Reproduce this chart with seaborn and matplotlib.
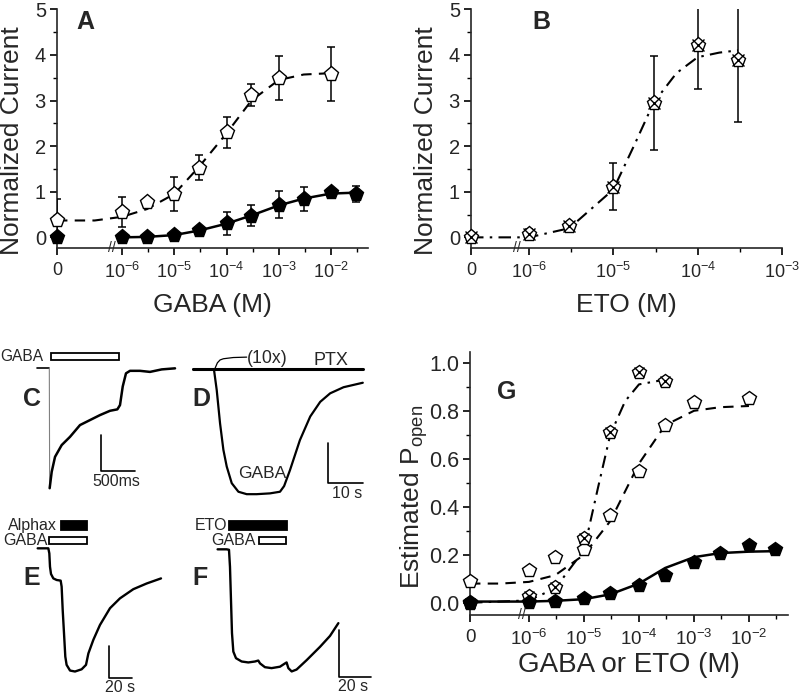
import numpy as np
import matplotlib
matplotlib.use('Agg')
import matplotlib.pyplot as plt
from matplotlib.patches import Rectangle
import seaborn as sns

sns.set_style('ticks')
plt.rcParams['font.family'] = ['Liberation Sans', 'DejaVu Sans']
plt.rcParams['mathtext.default'] = 'regular'


# Panel A: GABA dose-response (open = with modulator, filled = GABA alone)
conc_a_open = [0, 1e-6, 3e-6, 1e-5, 3e-5, 1e-4, 3e-4, 1e-3, 1e-2]
a_open = [0.38, 0.55, 0.77, 0.95, 1.53, 2.30, 3.12, 3.50, 3.58]
a_open_err = [0.45, 0.33, 0.05, 0.37, 0.27, 0.34, 0.25, 0.48, 0.60]
conc_a_fill = [0, 1e-6, 3e-6, 1e-5, 3e-5, 1e-4, 3e-4, 1e-3, 3e-3, 1e-2, 3e-2]
a_fill = [0.0, 0.0, 0.01, 0.06, 0.16, 0.31, 0.47, 0.72, 0.84, 0.99, 0.95]
a_fill_err = [0.0, 0.0, 0.0, 0.03, 0.05, 0.25, 0.23, 0.30, 0.27, 0.05, 0.17]

fit_a_open_c = [0, 3e-7, 1e-6, 3e-6, 1e-5, 3e-5, 1e-4, 3e-4, 1e-3, 3e-3, 1e-2]
fit_a_open = [0.37, 0.37, 0.45, 0.62, 0.95, 1.55, 2.28, 3.0, 3.45, 3.57, 3.6]
fit_a_fill_c = [1e-6, 3e-6, 1e-5, 3e-5, 1e-4, 3e-4, 1e-3, 3e-3, 1e-2, 3e-2]
fit_a_fill = [0.0, 0.01, 0.05, 0.15, 0.30, 0.48, 0.70, 0.85, 0.96, 0.98]

# Panel B: ETO dose-response
conc_b = [0, 1e-6, 3e-6, 1e-5, 3e-5, 1e-4, 3e-4]
b_eto = [0.0, 0.08, 0.25, 1.11, 2.95, 4.22, 3.89]
b_err = [0.0, 0.10, 0.05, 0.52, 1.03, 0.97, 1.35]
fit_b_c = [0, 1e-6, 3e-6, 1e-5, 1.8e-5, 3e-5, 5.6e-5, 1e-4, 1.8e-4, 3e-4]
fit_b = [0.0, 0.0, 0.2, 1.05, 2.05, 2.95, 3.6, 3.95, 4.05, 4.1]

# Panel G: estimated open probability
conc_g_open = [0, 1e-6, 3e-6, 1e-5, 3e-5, 1e-4, 3e-4, 1e-3, 1e-2]
g_open = [0.09, 0.136, 0.19, 0.226, 0.365, 0.55, 0.74, 0.837, 0.855]
conc_g_eto = [0, 1e-6, 3e-6, 1e-5, 3e-5, 1e-4, 3e-4]
g_eto = [0.0, 0.03, 0.065, 0.27, 0.71, 0.96, 0.925]
conc_g_fill = [0, 1e-6, 3e-6, 1e-5, 3e-5, 1e-4, 3e-4, 1e-3, 3e-3, 1e-2, 3e-2]
g_fill = [0.005, 0.005, 0.007, 0.018, 0.042, 0.074, 0.115, 0.171, 0.206, 0.24, 0.224]

fit_g_open_c = [0, 3e-7, 1e-6, 3e-6, 1e-5, 3e-5, 1e-4, 3e-4, 1e-3, 3e-3, 1e-2]
fit_g_open = [0.08, 0.08, 0.087, 0.115, 0.2, 0.34, 0.58, 0.74, 0.80, 0.815, 0.82]
fit_g_eto_c = [0, 1e-6, 3e-6, 1e-5, 1.8e-5, 3e-5, 5.6e-5, 1e-4, 3e-4]
fit_g_eto = [0.0, 0.01, 0.06, 0.22, 0.48, 0.70, 0.84, 0.91, 0.93]
fit_g_fill_c = [0, 1e-6, 3e-6, 1e-5, 3e-5, 1e-4, 3e-4, 1e-3, 3e-3, 1e-2, 3e-2]
fit_g_fill = [0.005, 0.005, 0.008, 0.015, 0.035, 0.08, 0.145, 0.19, 0.207, 0.213, 0.215]

# Current traces (time, current in units of the vertical scale bar)
c_t = [-206, -20, -15, 15, 64, 162, 284, 431, 578, 725, 872, 980, 1019, 1059, 1107, 1166, 1313, 1460, 1632, 1828]  # ms
c_i = [0, 0, -3.36, -2.90, -2.48, -2.15, -1.92, -1.59, -1.45, -1.31, -1.19, -1.15, -1.03, -0.51, -0.14, -0.07, -0.07, -0.10, -0.03, 0.0]
c_gaba = (0, 1000)

d_gaba_t = [-6.0, -0.2, 0, 0.78, 1.75, 2.72, 3.69, 5.15, 7.09, 9.51, 12.4, 16.3, 19.2, 20.4, 22.1, 25.0, 28.0, 30.9, 33.8, 37.7, 43.3]  # s
d_gaba_i = [0, 0, -0.02, -0.51, -1.33, -1.98, -2.39, -2.80, -3.01, -3.07, -3.07, -3.05, -3.01, -2.87, -2.48, -1.74, -1.16, -0.80, -0.59, -0.44, -0.33]
d_ptx_t = [-6.0, 43.3]
d_ptx_i = [0, 0]
d_10x_t = [0.29, 0.97, 1.75, 2.72, 5.6, 9.5]
d_10x_i = [0.025, 0.16, 0.23, 0.26, 0.29, 0.30]

e_t = [-9.86, -0.85, 0, 0.56, 1.41, 3.38, 6.2, 9.58, 10.4, 11.3, 12.4, 13.5, 14.6, 17.5, 21.7, 27.3, 31.0, 33.0, 37.2, 42.8, 51.3, 59.7, 71.0, 82.3, 94.4]
e_i = [0, 0, -0.16, -0.58, -0.81, -0.95, -1.0, -1.02, -1.21, -1.95, -2.68, -3.42, -3.68, -3.86, -3.89, -3.82, -3.68, -3.32, -2.89, -2.42, -1.89, -1.58, -1.29, -1.11, -0.95]
e_alphax = (9.9, 32.1)
e_gaba = (0, 32.1)

f_t = [-7.2, -1.5, 0, 0.63, 1.26, 1.89, 2.74, 4.42, 8.0, 12.2, 16.4, 18.5, 19.6, 22.7, 26.9, 32.2, 35.4, 36.4, 37.5, 39.6, 42.7, 49.1, 57.5, 63.8, 69.1]
f_i = [0, 0, -0.01, -0.37, -1.07, -1.77, -2.16, -2.30, -2.37, -2.39, -2.37, -2.35, -2.41, -2.49, -2.51, -2.48, -2.41, -2.39, -2.51, -2.58, -2.54, -2.34, -2.06, -1.83, -1.56]
f_eto = (0, 36.4)
f_gaba = (18.9, 35.8)


def xpos(conc, x0):
    return [np.log10(c) if c > 0 else x0 for c in conc]


def setup_dose(ax, x0, x1, xbreak, decades, ylim, yticks, yminor, ylabels, ysize, xsize):
    ax.set_xlim(x0, x1)
    ax.set_ylim(*ylim)
    ax.set_xticks([x0] + decades)
    ax.set_xticklabels(['0'] + ['$10^{%d}$' % d for d in decades])
    ax.set_xticks([d + 0.5 for d in decades if d + 0.5 < x1], minor=True)
    ax.set_yticks(yticks)
    ax.set_yticklabels(ylabels)
    ax.set_yticks(yminor, minor=True)
    sns.despine(ax=ax)
    for s in ['left', 'bottom']:
        ax.spines[s].set_linewidth(1.2)
    ax.tick_params(which='major', direction='out', length=5, width=1.2, color='k')
    ax.tick_params(which='minor', direction='out', length=3, width=1, color='k')
    ax.tick_params(axis='y', labelsize=ysize, pad=3)
    ax.tick_params(axis='x', labelsize=xsize, pad=5)
    ax.text(xbreak, 0, '//', transform=ax.get_xaxis_transform(), ha='center', va='center',
            fontsize=10, zorder=5)


def points(ax, x, y, err=None, style='open', ms=11):
    if err is not None:
        ax.errorbar(x, y, yerr=err, fmt='none', ecolor='k', elinewidth=1.1, capsize=3, capthick=1.1, zorder=3)
    if style == 'open':
        ax.plot(x, y, 'p', ms=ms, mfc='white', mec='k', mew=1, zorder=4, clip_on=False)
    elif style == 'fill':
        ax.plot(x, y, 'p', ms=ms, mfc='k', mec='k', zorder=4, clip_on=False)
    else:
        ax.plot(x, y, 'p', ms=ms, mfc='white', mec='k', mew=1, zorder=4, clip_on=False)
        ax.plot(x, y, 'x', ms=ms * 0.75, mec='k', mew=1, zorder=5, clip_on=False)


def fit(ax, x, y, ls, lw=1.5):
    sns.lineplot(x=x, y=y, ax=ax, sort=False, estimator=None, color='k', lw=lw, linestyle=ls, zorder=2)


def trace_axes(rect, xlim, ylim):
    ax = fig.add_axes(rect)
    ax.set_xlim(*xlim)
    ax.set_ylim(*ylim)
    ax.axis('off')
    ax.patch.set_alpha(0)
    return ax


def scalebar(ax, x, y, dx, dy, label, tx, ty):
    ax.plot([x, x, x + dx], [y + dy, y, y], color='k', lw=1.2)
    ax.text(tx, ty, label, ha='center', va='top', fontsize=11.5)


def bar(ax, t, y0, y1, filled):
    ax.add_patch(Rectangle((t[0], y0), t[1] - t[0], y1 - y0, fc='k' if filled else 'white',
                           ec='k', lw=1.3))


fig = plt.figure(figsize=(8, 6.97), dpi=100)
W, H = 800, 697


def rect(l, t, r, b):
    return [l / W, 1 - b / H, (r - l) / W, (b - t) / H]


dashed = (0, (5, 3.5))
dashdot = (0, (6, 3, 1.2, 3))

# ---- A
axA = fig.add_axes(rect(57, 9.3, 368, 248.3))
x0a = -7.244
setup_dose(axA, x0a, -1.292, -6.2, [-6, -5, -4, -3, -2], (-0.24, 5), range(6),
           np.arange(0.5, 5, 1), [str(v) for v in range(6)], 14.5, 13)
fit(axA, xpos(fit_a_open_c, x0a), fit_a_open, dashed)
fit(axA, xpos(fit_a_fill_c, x0a), fit_a_fill, '-', lw=1.8)
points(axA, xpos(conc_a_open, x0a), a_open, a_open_err, 'open')
points(axA, xpos(conc_a_fill, x0a), a_fill, a_fill_err, 'fill')
axA.set_xlabel('GABA (M)', fontsize=19)
axA.set_ylabel('Normalized Current', fontsize=19)
axA.xaxis.set_label_coords(0.5, -0.185)
axA.yaxis.set_label_coords(-0.105, 0.45)

# ---- B
axB = fig.add_axes(rect(471, 9.3, 782, 248.3))
x0b = -6.688
setup_dose(axB, x0b, -3.0, -6.14, [-6, -5, -4, -3], (-0.24, 5), range(6),
           np.arange(0.5, 5, 1), [str(v) for v in range(6)], 14.5, 13)
fit(axB, xpos(fit_b_c, x0b), fit_b, dashdot)
points(axB, xpos(conc_b, x0b), b_eto, b_err, 'cross')
axB.set_xlabel('ETO (M)', fontsize=19)
axB.set_ylabel('Normalized Current', fontsize=19)
axB.xaxis.set_label_coords(0.5, -0.185)
axB.yaxis.set_label_coords(-0.105, 0.45)

# ---- G
axG = fig.add_axes(rect(470, 352, 788, 615))
x0g = -7.073
gt = np.round(np.arange(0, 1.01, 0.2), 1)
setup_dose(axG, x0g, -1.29, -6.13, [-6, -5, -4, -3, -2], (-0.051, 1.045), gt,
           np.arange(0.1, 1.0, 0.2), ['%.1f' % v for v in gt], 15.5, 13.5)
fit(axG, xpos(fit_g_open_c, x0g), fit_g_open, dashed)
fit(axG, xpos(fit_g_eto_c, x0g), fit_g_eto, dashdot)
fit(axG, xpos(fit_g_fill_c, x0g), fit_g_fill, '-', lw=1.8)
points(axG, xpos(conc_g_open, x0g), g_open, None, 'open', ms=10)
points(axG, xpos(conc_g_eto, x0g), g_eto, None, 'cross', ms=10)
points(axG, xpos(conc_g_fill, x0g), g_fill, None, 'fill', ms=10)
axG.set_xlabel('GABA or ETO (M)', fontsize=20)
axG.set_ylabel('Estimated P$_{open}$', fontsize=19)
axG.xaxis.set_label_coords(0.5, -0.14)
axG.yaxis.set_label_coords(-0.125, 0.45)

# ---- C
axC = trace_axes(rect(0, 340, 180, 500), (-745, 1901), (-3.69, 0.794))
sns.lineplot(x=c_t[:2], y=c_i[:2], ax=axC, sort=False, estimator=None, color='k', lw=1.2)
sns.lineplot(x=c_t[1:3], y=c_i[1:3], ax=axC, sort=False, estimator=None, color='0.5', lw=0.8)
sns.lineplot(x=c_t[2:], y=c_i[2:], ax=axC, sort=False, estimator=None, color='k', lw=1.8)
bar(axC, c_gaba, 0.23, 0.44, False)
axC.text(-108, 0.335, 'GABA', ha='right', va='center', fontsize=11.2)
scalebar(axC, 740, -2.87, 500, 1.0, '500ms', 960, -2.95)

# ---- D
axD = trace_axes(rect(190, 340, 370, 510), (-7.0, 45.4), (-3.459, 0.721))
sns.lineplot(x=d_ptx_t, y=d_ptx_i, ax=axD, sort=False, estimator=None, color='k', lw=2.2)
sns.lineplot(x=d_gaba_t, y=d_gaba_i, ax=axD, sort=False, estimator=None, color='k', lw=1.6)
sns.lineplot(x=d_10x_t, y=d_10x_i, ax=axD, sort=False, estimator=None, color='k', lw=0.9)
axD.text(15.6, 0.27, '(10x)', ha='center', va='center', fontsize=12.7)
axD.text(34, 0.21, 'PTX', ha='center', va='center', fontsize=13)
axD.text(13.9, -2.56, 'GABA', ha='center', va='center', fontsize=12.5)
scalebar(axD, 33.3, -2.80, 10, 1.0, '10 s', 38.6, -2.88)

# ---- E
axE = trace_axes(rect(0, 500, 170, 697), (-41.7, 102.0), (-4.695, 1.526))
sns.lineplot(x=e_t, y=e_i, ax=axE, sort=False, estimator=None, color='k', lw=1.7)
bar(axE, e_alphax, 0.579, 0.863, True)
bar(axE, e_gaba, 0.126, 0.368, False)
axE.text(6.76, 0.72, 'Alphax', ha='right', va='center', fontsize=11.5)
axE.text(-1.69, 0.24, 'GABA', ha='right', va='center', fontsize=11.5)
scalebar(axE, 50.1, -4.10, 20, 1.0, '20 s', 59.7, -4.15)

# ---- F
axF = trace_axes(rect(180, 500, 380, 697), (-30.95, 95.4), (-3.12, 1.042))
sns.lineplot(x=f_t, y=f_i, ax=axF, sort=False, estimator=None, color='k', lw=1.7)
bar(axF, f_eto, 0.408, 0.606, True)
bar(axF, f_gaba, 0.106, 0.268, False)
axF.text(-1.05, 0.507, 'ETO', ha='right', va='center', fontsize=11.5)
axF.text(17.1, 0.183, 'GABA', ha='right', va='center', fontsize=11.5)
scalebar(axF, 69.5, -2.70, 20, 1.0, '20 s', 78.5, -2.73)

# panel letters
for lab, (px, py) in {'A': (85, 22), 'B': (541, 22), 'C': (32, 399), 'D': (201, 399),
                      'E': (32, 578), 'F': (200, 578), 'G': (507, 392)}.items():
    fig.text(px / W, 1 - py / H, lab, ha='center', va='center', fontsize=18, fontweight='bold')

fig.savefig('out.png', dpi=100)
